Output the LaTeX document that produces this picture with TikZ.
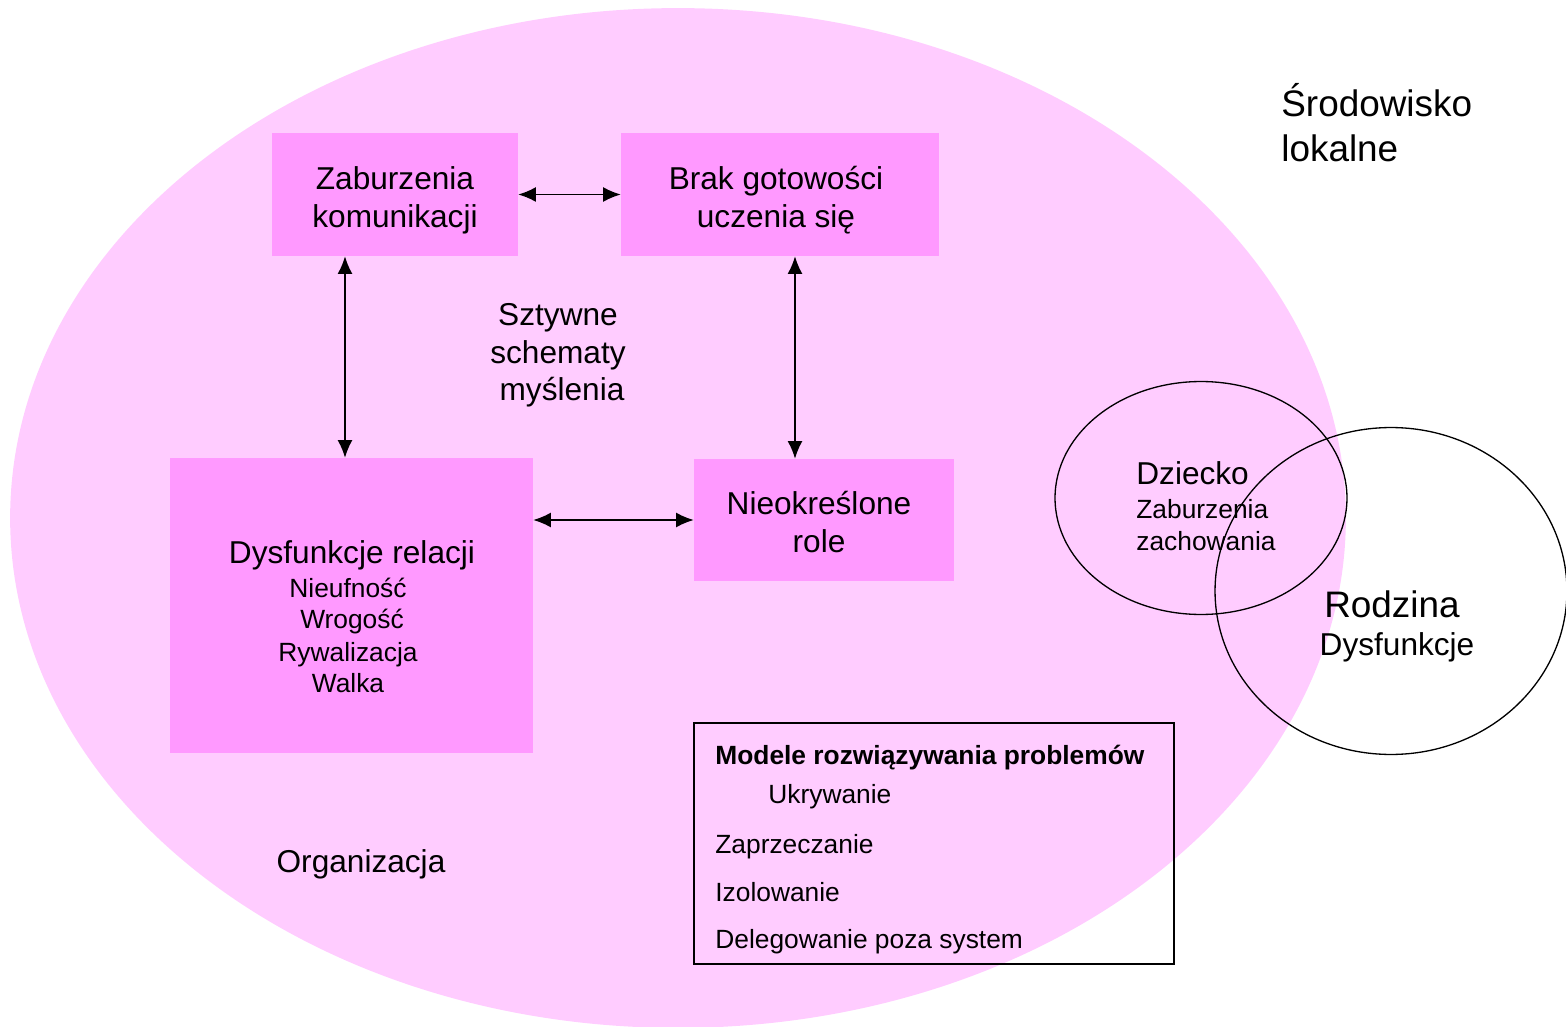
\documentclass[tikz,border=0pt]{standalone}
\usepackage{fontspec}
\setmainfont{Liberation Sans}
\usetikzlibrary{arrows.meta,shapes.geometric}
\definecolor{orgpink}{HTML}{FFCCFF}
\definecolor{boxpink}{HTML}{FF99FF}
\tikzset{
  pbox/.style={fill=boxpink, inner sep=0pt},
  big/.style={font=\fontsize{18}{21.6}\selectfont, inner sep=0pt},
  small/.style={font=\fontsize{15}{18}\selectfont, inner sep=0pt},
  large/.style={font=\fontsize{21}{25.6}\selectfont, inner sep=0pt},
  dblarrow/.style={{Latex[length=10pt,width=8.5pt]}-{Latex[length=10pt,width=8.5pt]}, line width=0.8pt},
  ring/.style={ellipse, draw, line width=0.75pt, inner sep=0pt},
}
\begin{document}
\begin{tikzpicture}[x=0.02cm,y=-0.02cm]
\useasboundingbox (0,0) rectangle (1566,1027);
% organizacja
\fill[orgpink] (678,518) ellipse [x radius=13.36cm, y radius=10.2cm];
% boxes
\node[pbox, minimum width=4.92cm, minimum height=2.46cm] (zab) at (395,194.5) {};
\node[pbox, minimum width=6.36cm, minimum height=2.46cm] (brak) at (780,194.5) {};
\node[pbox, minimum width=7.26cm, minimum height=5.9cm] (dysf) at (351.5,605.5) {};
\node[pbox, minimum width=5.2cm, minimum height=2.44cm] (nieok) at (824,520) {};
\node[big, align=center] (zabtxt) at (395,200) {Zaburzenia\\komunikacji};
\node[big, align=center] (braktxt) at (776,200) {Brak gotowości\\uczenia się};
\node[big, align=center] (nieoktxt) at (819,522) {Nieokreślone\\role};
\node[big, anchor=base] (dysfrel) at (352,563) {Dysfunkcje relacji};
\node[small, anchor=base] (nieuf) at (348,597) {Nieufność};
\node[small, anchor=base] (wrog) at (352,628) {Wrogość};
\node[small, anchor=base] (rywal) at (348,661) {Rywalizacja};
\node[small, anchor=base] (walka) at (348,692) {Walka};
% arrows
\coordinate (lv) at (345,0);
\coordinate (rv) at (795,0);
\draw[dblarrow] (zab) -- (brak);
\draw[dblarrow] (zab.south -| lv) -- (dysf.north -| lv);
\draw[dblarrow] (brak.south -| rv) -- (nieok.north -| rv);
\draw[dblarrow] (dysf.east |- nieok) -- (nieok);
% free texts
\node[big, anchor=base] (szt1) at (558,326) {Sztywne};
\node[big, anchor=base] (szt2) at (558,363) {schematy};
\node[big, anchor=base] (szt3) at (562,400) {myślenia};
\node[big, anchor=base] (org) at (361,872) {Organizacja};
\node[large, anchor=base west] (srod) at (1281,117) {Środowisko};
\node[large, anchor=base west] (lok) at (1281,162) {lokalne};
% dziecko i rodzina
\node[ring, minimum width=5.84cm, minimum height=4.66cm] (dziecko) at (1201,498) {};
\node[ring, minimum width=7.04cm, minimum height=6.54cm] (rodzina) at (1391,591) {};
\node[big, anchor=base west] (dz1) at (1136,484) {Dziecko};
\node[small, anchor=base west] (dz2) at (1136,518) {Zaburzenia};
\node[small, anchor=base west] (dz3) at (1136,550) {zachowania};
\node[large, anchor=base] (rod1) at (1392,617) {Rodzina};
\node[big, anchor=base] (rod2) at (1397,655) {Dysfunkcje};
% modele
\node[draw, line width=0.85pt, minimum width=9.6cm, minimum height=4.82cm, inner sep=0pt] (modele) at (934,843.5) {};
\node[small, anchor=base west] (mod1) at (715,764) {\bfseries Modele rozwiązywania problemów};
\node[small, anchor=base west] (mod2) at (768,803) {Ukrywanie};
\node[small, anchor=base west] (mod3) at (715,853) {Zaprzeczanie};
\node[small, anchor=base west] (mod4) at (715,901) {Izolowanie};
\node[small, anchor=base west] (mod5) at (715,948) {Delegowanie poza system};
\end{tikzpicture}
\end{document}
